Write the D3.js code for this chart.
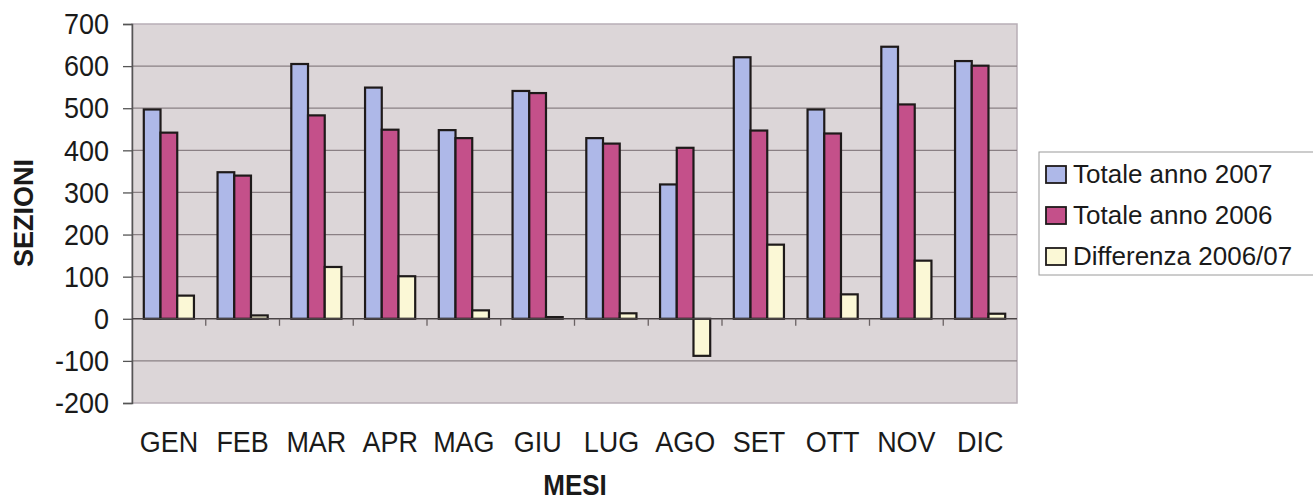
<!DOCTYPE html>
<html>
<head>
<meta charset="utf-8">
<script src="https://cdn.jsdelivr.net/npm/d3@7"></script>
<style>
  body { margin: 0; background: #fff; }
  svg { font-family: "Liberation Sans", Arial, sans-serif; }
</style>
</head>
<body>
<div id="chart"></div>
<script>
var months = ['GEN', 'FEB', 'MAR', 'APR', 'MAG', 'GIU', 'LUG', 'AGO', 'SET', 'OTT', 'NOV', 'DIC']
var tot2007 = [497, 348, 605, 549, 448, 541, 429, 319, 621, 497, 646, 612]
var tot2006 = [442, 340, 483, 449, 429, 536, 416, 406, 447, 440, 509, 601]
var diff0607 = [55, 8, 123, 101, 20, 4, 13, -88, 176, 58, 138, 12]
var seriesNames = ['Totale anno 2007', 'Totale anno 2006', 'Differenza 2006/07']
var seriesColors = ['#aeb8e8', '#c4508a', '#fbf8d6']
var yTicks = [-200, -100, 0, 100, 200, 300, 400, 500, 600, 700]

var W = 1313, H = 500
var m = { top: 24, left: 132, right: 296, bottom: 97 }
var iw = W - m.left - m.right, ih = H - m.top - m.bottom
var stretch = 'scale(1,1.12)'

var svg = d3.select('#chart').append('svg')
  .attr('width', W).attr('height', H)

var g = svg.append('g').attr('transform', 'translate(' + m.left + ',' + m.top + ')')

var x = d3.scaleBand().domain(months).range([0, iw]).paddingInner(0.32).paddingOuter(0.16)
var xs = d3.scaleBand().domain(d3.range(3)).range([0, x.bandwidth()])
var y = d3.scaleLinear().domain([-200, 700]).range([ih, 0])

// plot background
g.append('rect')
  .attr('width', iw).attr('height', ih)
  .attr('fill', '#dcd6d8').attr('stroke', '#b8aeb6').attr('stroke-width', 1.5)

// grid lines
g.selectAll('line.grid').data(yTicks.filter(function(d) { return d !== 0 && d !== -200 && d !== 700 }))
  .enter().append('line')
  .attr('class', 'grid')
  .attr('x1', 0).attr('x2', iw)
  .attr('y1', y).attr('y2', y)
  .attr('stroke', '#8a8084').attr('stroke-width', 1.3)

// y axis
var yAxis = d3.axisLeft(y).tickValues(yTicks).tickSize(9).tickPadding(14)
  .tickFormat(function(d) { return String(d) })
var ya = g.append('g').call(yAxis)
ya.select('.domain').attr('stroke', '#555').attr('stroke-width', 1.5)
ya.selectAll('.tick line').attr('stroke', '#555').attr('stroke-width', 1.3)
ya.selectAll('.tick text').attr('font-size', 27).attr('fill', '#1a1a1a')
  .attr('font-family', '"Liberation Sans", Arial, sans-serif')
  .attr('transform', stretch)

// bars
var rows = months.map(function(mo, i) {
  return { m: mo, v: [tot2007[i], tot2006[i], diff0607[i]] }
})
var grp = g.selectAll('g.month').data(rows).enter().append('g')
  .attr('transform', function(d) { return 'translate(' + x(d.m) + ',0)' })
grp.selectAll('rect').data(function(d) { return d.v })
  .enter().append('rect')
  .attr('x', function(d, i) { return xs(i) })
  .attr('width', xs.bandwidth())
  .attr('y', function(d) { return y(Math.max(0, d)) })
  .attr('height', function(d) { return Math.max(1, Math.abs(y(d) - y(0))) })
  .attr('fill', function(d, i) { return seriesColors[i] })
  .attr('stroke', '#1e1a1a').attr('stroke-width', 2.2)

// zero axis with category ticks
g.append('line')
  .attr('x1', 0).attr('x2', iw).attr('y1', y(0)).attr('y2', y(0))
  .attr('stroke', '#4a4446').attr('stroke-width', 1.5)
g.selectAll('line.ctick').data(d3.range(1, months.length))
  .enter().append('line')
  .attr('class', 'ctick')
  .attr('x1', function(i) { return i * iw / months.length })
  .attr('x2', function(i) { return i * iw / months.length })
  .attr('y1', y(0)).attr('y2', y(0) + 7)
  .attr('stroke', '#6a6264').attr('stroke-width', 1.3)

// month labels
g.append('g')
  .selectAll('text').data(months).enter().append('text')
  .attr('transform', function(d) {
    return 'translate(' + (x(d) + x.bandwidth() / 2) + ',' + (ih + 49) + ') ' + stretch
  })
  .attr('text-anchor', 'middle')
  .attr('font-size', 27).attr('fill', '#1a1a1a')
  .text(function(d) { return d })

// axis titles
svg.append('text')
  .attr('transform', 'translate(33,213) rotate(-90)')
  .attr('text-anchor', 'middle')
  .attr('font-size', 27).attr('font-weight', 'bold').attr('fill', '#1a1a1a')
  .text('SEZIONI')
svg.append('text')
  .attr('transform', 'translate(575,495) ' + stretch)
  .attr('text-anchor', 'middle')
  .attr('font-size', 26).attr('font-weight', 'bold').attr('fill', '#1a1a1a')
  .text('MESI')

// legend
var lg = svg.append('g').attr('transform', 'translate(1039,152)')
lg.append('rect')
  .attr('width', 290).attr('height', 123)
  .attr('fill', '#fff').attr('stroke', '#9a9a9a').attr('stroke-width', 1)
var li = lg.selectAll('g.item').data(seriesNames).enter().append('g')
  .attr('transform', function(d, i) { return 'translate(7,' + (22 + i * 41) + ')' })
li.append('rect')
  .attr('x', 0).attr('y', -8).attr('width', 20).attr('height', 17)
  .attr('fill', function(d, i) { return seriesColors[i] })
  .attr('stroke', '#1e1a1a').attr('stroke-width', 1.8)
li.append('text')
  .attr('x', 27).attr('y', 9)
  .attr('font-size', 26).attr('fill', '#1a1a1a')
  .text(function(d) { return d })
</script>
</body>
</html>
